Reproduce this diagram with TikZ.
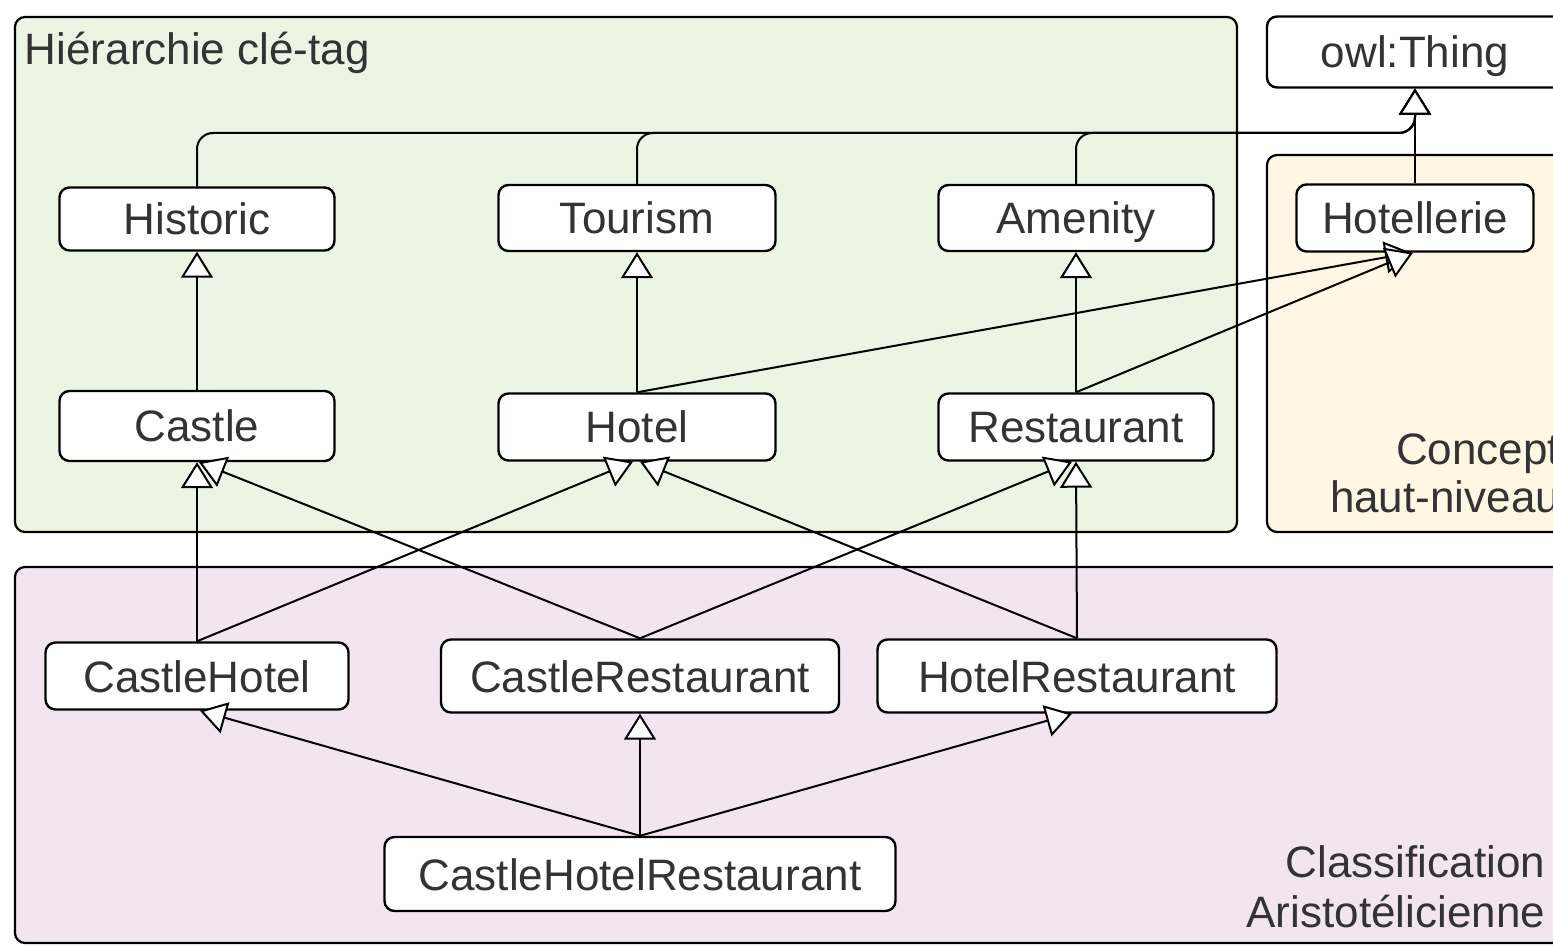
\documentclass[tikz,border=0pt]{standalone}
\usepackage{fontspec}
\setmainfont{Liberation Sans}
\usetikzlibrary{arrows.meta}

\definecolor{txt}{HTML}{333333}
\definecolor{keybg}{HTML}{ECF4E4}
\definecolor{topbg}{HTML}{FFF6E3}
\definecolor{aribg}{HTML}{F2E5F0}

\begin{document}
\begin{tikzpicture} [x=.5pt, y=-.5pt, line width=1pt,
  cls/.style={draw, fill=white, line width=1.2pt, rounded corners=5pt, inner sep=0pt, text=txt,
    font=\fontsize{22}{26}\selectfont, text height=16pt, text depth=0pt},
  lbl/.style={text=txt, inner sep=0pt, font=\fontsize{22}{25}\selectfont},
  grp/.style={draw, line width=1.1pt, rounded corners=5pt},
  isa/.style={-{Triangle[length=13pt, width=16pt, fill=white]}}]

\clip (0,0) rectangle (1553,946);

\draw[grp, fill=keybg] (15,17) rectangle (1237,532);
\draw[grp, fill=topbg] (1267,155) rectangle (1620,532);
\draw[grp, fill=aribg] (15,567) rectangle (1620,943);
\node[lbl, anchor=west] (keylbl) at (24,53) {Hiérarchie clé-tag};
\node[lbl, anchor=east, align=right, font=\fontsize{22}{24}\selectfont] (toplbl) at (1561,473) {Concept\\haut-niveau};
\node[lbl, anchor=east, align=right] (arilbl) at (1546,887) {Classification\\Aristotélicienne};

\node[cls, minimum width=148pt, minimum height=35.5pt] (thing) at (1415,52) {owl:Thing};
\node[cls, minimum width=118.5pt, minimum height=33.5pt] (hotellerie) at (1415,218) {Hotellerie};

\node[cls, minimum width=137.5pt, minimum height=31.5pt] (historic) at (197,219) {Historic};
\node[cls, minimum width=138.5pt, minimum height=33pt] (tourism) at (637,218) {Tourism};
\node[cls, minimum width=137.5pt, minimum height=33pt] (amenity) at (1076,218) {Amenity};

\node[cls, minimum width=137.5pt, minimum height=35pt] (castle) at (197,426) {Castle};
\node[cls, minimum width=138.5pt, minimum height=33.5pt] (hotel) at (637,427) {Hotel};
\node[cls, minimum width=137.5pt, minimum height=33.5pt] (restaurant) at (1076,427) {Restaurant};

\node[cls, minimum width=151.5pt, minimum height=33.5pt] (castlehotel) at (197,676) {CastleHotel};
\node[cls, minimum width=199pt, minimum height=36.5pt] (castlerest) at (640,676) {CastleRestaurant};
\node[cls, minimum width=199.5pt, minimum height=36.5pt] (hotelrest) at (1077,676) {HotelRestaurant};
\node[cls, minimum width=255.5pt, minimum height=37pt] (chr) at (640,874) {CastleHotelRestaurant};

\coordinate (bend) at (1415,133);
\foreach \n in {historic, tourism, amenity}
 \draw[isa, rounded corners=8pt] (\n.north) |- (bend) -- (thing.south);
\draw[isa] (hotellerie.north) -- (thing.south);

\draw[isa] (castle) -- (historic);
\draw[isa] (hotel) -- (tourism);
\draw[isa] (restaurant) -- (amenity);
\draw[isa] (hotel.north) -- ([xshift=-2pt]hotellerie.south);
\draw[isa] (restaurant.north) -- ([xshift=-1pt]hotellerie.south);

\draw[isa] (castlehotel.north) -- (castle.south);
\draw[isa] (castlehotel.north) -- ([xshift=-2pt]hotel.south);
\draw[isa] (castlerest.north) -- ([xshift=1pt]castle.south);
\draw[isa] (castlerest.north) -- ([xshift=-2pt]restaurant.south);
\draw[isa] (hotelrest.north) -- ([xshift=1.5pt]hotel.south);
\draw[isa] (hotelrest.north) -- (restaurant.south);

\draw[isa] (chr.north) -- ([xshift=1.5pt]castlehotel.south);
\draw[isa] (chr.north) -- (castlerest.south);
\draw[isa] (chr.north) -- ([xshift=-2.5pt]hotelrest.south);

\end{tikzpicture}
\end{document}
